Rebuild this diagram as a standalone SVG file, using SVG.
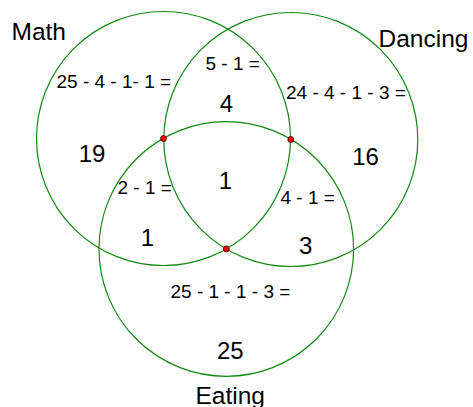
<svg xmlns="http://www.w3.org/2000/svg" width="473" height="407" viewBox="0 0 473 407">
<style>
  .set { fill: none; stroke: #118811; stroke-width: 1.2; }
  .dot { fill: #ee0000; stroke: #550000; stroke-width: 0.8; }
  text { font-family: "Liberation Sans", Arial, sans-serif; fill: #000; }
  .title { font-size: 24.5px; }
  .num { font-size: 24px; text-anchor: middle; }
  .eq { font-size: 19px; }
</style>
<rect width="473" height="407" fill="#fff"/>
<g id="math">
  <circle class="set" cx="163.5" cy="138.5" r="127"/>
  <text class="title" x="11.5" y="40">Math</text>
</g>
<g id="dancing">
  <circle class="set" cx="290.8" cy="139.5" r="127"/>
  <text class="title" x="378.5" y="46.5">Dancing</text>
</g>
<g id="eating">
  <circle class="set" cx="226.3" cy="249" r="127.3"/>
  <text class="title" x="195.5" y="403.5">Eating</text>
</g>
<g id="centers">
  <circle class="dot" cx="163.5" cy="138.5" r="3"/>
  <circle class="dot" cx="290.8" cy="139.5" r="3"/>
  <circle class="dot" cx="226.3" cy="249" r="3"/>
</g>
<g id="math-only">
  <text class="eq" x="56.5" y="87.5">25 - 4 - 1- 1 =</text>
  <text class="num" x="92" y="162">19</text>
</g>
<g id="math-dancing">
  <text class="eq" x="205.5" y="69.5">5 - 1 =</text>
  <text class="num" x="226.5" y="111.5">4</text>
</g>
<g id="dancing-only">
  <text class="eq" x="286" y="98.5">24 - 4 - 1 - 3 =</text>
  <text class="num" x="365.5" y="164.5">16</text>
</g>
<g id="math-eating">
  <text class="eq" x="117.5" y="193.5">2 - 1 =</text>
  <text class="num" x="147.5" y="246">1</text>
</g>
<g id="all-three">
  <text class="num" x="225.5" y="189">1</text>
</g>
<g id="dancing-eating">
  <text class="eq" x="280.5" y="203.5">4 - 1 =</text>
  <text class="num" x="305.8" y="254">3</text>
</g>
<g id="eating-only">
  <text class="eq" x="170.5" y="297.5">25 - 1 - 1 - 3 =</text>
  <text class="num" x="230.3" y="358.5">25</text>
</g>
</svg>
